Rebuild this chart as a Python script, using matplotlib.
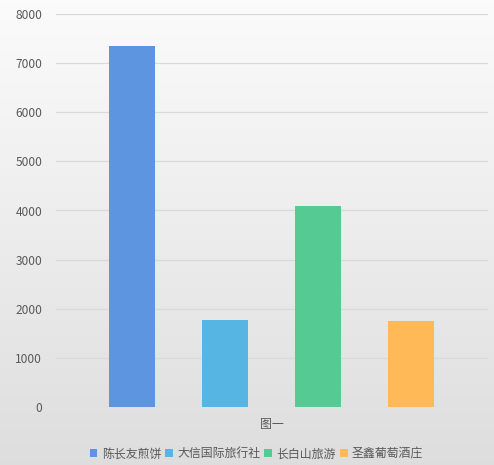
import matplotlib.pyplot as plt
import numpy as np

plt.rcParams['font.family'] = ['Noto Sans CJK SC', 'DejaVu Sans']

# 数据
categories = ['陈长友煎饼', '大信国际旅行社', '长白山旅游', '圣鑫葡萄酒庄']
values = [7350, 1780, 4095, 1745]
colors = ['#5e95e0', '#57b5e3', '#55ca93', '#ffb957']
group_label = '图一'
yticks = [0, 1000, 2000, 3000, 4000, 5000, 6000, 7000, 8000]

fig = plt.figure(figsize=(4.94, 4.65), dpi=100)

# 背景渐变
bg = fig.add_axes([0, 0, 1, 1], zorder=-10)
grad = np.linspace(0, 1, 256).reshape(-1, 1)
top = np.array([0.985, 0.985, 0.985])
bot = np.array([0.87, 0.87, 0.87])
img = top + (bot - top) * grad[:, :, None]
bg.imshow(img, aspect='auto', extent=[0, 1, 0, 1])
bg.axis('off')

ax = fig.add_axes([56 / 494, 1 - 407 / 465, 432 / 494, 393 / 465])
ax.patch.set_alpha(0)

x = np.arange(len(categories))
for i in range(len(categories)):
    ax.bar(x[i], values[i], width=0.495, color=colors[i], label=categories[i], zorder=3)

ax.set_xlim(-0.82, 3.83)
ax.set_ylim(0, 8000)
ax.set_yticks(yticks)
ax.yaxis.grid(True, color='#d9d9d9', linewidth=0.9)
ax.set_axisbelow(True)
for s in ax.spines.values():
    s.set_visible(False)
ax.tick_params(axis='y', length=0, pad=10, labelsize=8.6, labelcolor='#595959')
ax.set_xticks([1.5])
ax.set_xticklabels([group_label], fontsize=8.6, color='#595959')
ax.tick_params(axis='x', length=0, pad=8)

fig.legend(loc='lower center', bbox_to_anchor=(0.519, -0.013), ncol=4, frameon=False,
           fontsize=8.6, handlelength=0.65, handleheight=0.65, handletextpad=0.35,
           columnspacing=0.35, labelcolor='#595959')

fig.savefig('out.png', dpi=100)
